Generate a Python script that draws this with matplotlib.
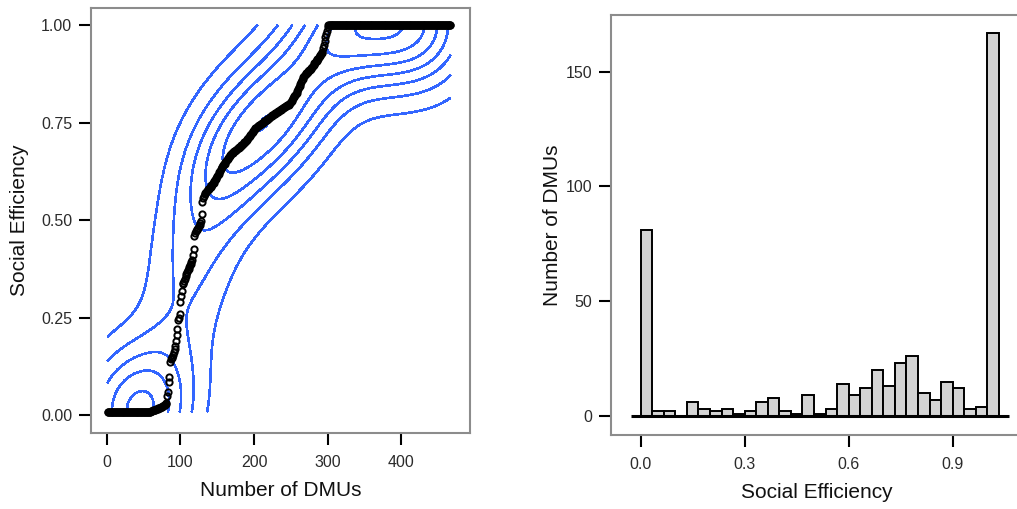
import numpy as np
import matplotlib
matplotlib.use("Agg")
import matplotlib.pyplot as plt
from matplotlib.ticker import FixedLocator, FormatStrFormatter

plt.rcParams['font.family'] = ['Liberation Sans', 'DejaVu Sans']

# ---------------- data: sorted social efficiency of each DMU ----------------
eff_bin00 = [0.008] * 58 + [0.009, 0.010, 0.010, 0.011, 0.012, 0.013, 0.013, 0.014,
                            0.015, 0.016, 0.017, 0.018, 0.018, 0.019, 0.020, 0.021,
                            0.022, 0.023, 0.024, 0.025, 0.027, 0.029, 0.031]
eff_bin01 = [0.048, 0.060]
eff_bin02 = [0.085, 0.098]
eff_bin04 = [0.137, 0.143, 0.146, 0.150, 0.155, 0.162]
eff_bin05 = [0.170, 0.178, 0.190]
eff_bin06 = [0.205, 0.222]
eff_bin07 = [0.244, 0.250, 0.259]
eff_bin08 = [0.290]
eff_bin09 = [0.306, 0.318]
eff_bin10 = [0.336, 0.339, 0.344, 0.350, 0.356, 0.363]
eff_bin11 = [0.368, 0.371, 0.375, 0.379, 0.384, 0.388, 0.392, 0.397]
eff_bin12 = [0.410, 0.427]
eff_bin13 = [0.458]
eff_bin14 = [0.468, 0.471, 0.474, 0.477, 0.480, 0.484, 0.488, 0.492, 0.497]
eff_bin15 = [0.515]
eff_bin16 = [0.546, 0.556, 0.563]
eff_bin17 = [0.568, 0.570, 0.572, 0.574, 0.577, 0.579, 0.581, 0.584, 0.586, 0.589,
             0.591, 0.594, 0.596, 0.599]
eff_bin18 = [0.602, 0.605, 0.609, 0.612, 0.616, 0.619, 0.623, 0.627, 0.631]
eff_bin19 = [0.635, 0.637, 0.640, 0.643, 0.645, 0.648, 0.651, 0.654, 0.656, 0.659,
             0.662, 0.665]
eff_bin20 = [0.668, 0.669, 0.671, 0.672, 0.674, 0.676, 0.677, 0.679, 0.680, 0.682,
             0.684, 0.685, 0.687, 0.688, 0.690, 0.692, 0.693, 0.695, 0.697, 0.699]
eff_bin21 = [0.701, 0.704, 0.706, 0.709, 0.711, 0.714, 0.716, 0.719, 0.721, 0.724,
             0.726, 0.729, 0.731]
eff_bin22 = [0.734, 0.736, 0.737, 0.738, 0.740, 0.741, 0.743, 0.744, 0.746, 0.747,
             0.748, 0.750, 0.751, 0.753, 0.754, 0.756, 0.757, 0.759, 0.760, 0.761,
             0.763, 0.764, 0.766]
eff_bin23 = [0.768, 0.769, 0.770, 0.772, 0.773, 0.774, 0.775, 0.777, 0.778, 0.779,
             0.780, 0.782, 0.783, 0.784, 0.785, 0.787, 0.788, 0.789, 0.790, 0.792,
             0.793, 0.794, 0.795, 0.796, 0.798, 0.799]
eff_bin24 = [0.803, 0.806, 0.809, 0.812, 0.815, 0.818, 0.821, 0.824, 0.827, 0.831]
eff_bin25 = [0.837, 0.841, 0.845, 0.850, 0.854, 0.858, 0.863]
eff_bin26 = [0.868, 0.870, 0.872, 0.874, 0.876, 0.878, 0.880, 0.882, 0.884, 0.886,
             0.888, 0.890, 0.892, 0.895, 0.898]
eff_bin27 = [0.902, 0.904, 0.907, 0.909, 0.912, 0.914, 0.917, 0.920, 0.922, 0.925,
             0.928, 0.931]
eff_bin28 = [0.940, 0.950, 0.960]
eff_bin29 = [0.970, 0.978, 0.986, 0.994]
eff_bin30 = [1.0] * 167

efficiency = np.array(
    eff_bin00 + eff_bin01 + eff_bin02 + eff_bin04 + eff_bin05 + eff_bin06 + eff_bin07
    + eff_bin08 + eff_bin09 + eff_bin10 + eff_bin11 + eff_bin12 + eff_bin13 + eff_bin14
    + eff_bin15 + eff_bin16 + eff_bin17 + eff_bin18 + eff_bin19 + eff_bin20 + eff_bin21
    + eff_bin22 + eff_bin23 + eff_bin24 + eff_bin25 + eff_bin26 + eff_bin27 + eff_bin28
    + eff_bin29 + eff_bin30)
dmu_rank = np.arange(1, len(efficiency) + 1)

hist_bins = 31
hist_binwidth = 1 / 30

left_xticks = [0, 100, 200, 300, 400]
left_yticks = [0.0, 0.25, 0.5, 0.75, 1.0]
right_xticks = [0.0, 0.3, 0.6, 0.9]
right_yticks = [0, 50, 100, 150]


# ---------------- 2-D kernel density (as MASS::kde2d) ----------------
def bandwidth_nrd(v):
    q1, q3 = np.percentile(v, [25, 75])
    h = (q3 - q1) / 1.34
    return 4 * 1.06 * min(np.std(v, ddof=1), h) * len(v) ** (-0.2)


def kde2d(x, y, ngrid=100):
    hx = bandwidth_nrd(x) / 4
    hy = bandwidth_nrd(y) / 4
    gx = np.linspace(x.min(), x.max(), ngrid)
    gy = np.linspace(y.min(), y.max(), ngrid)
    ax_ = (gx[:, None] - x[None, :]) / hx
    ay_ = (gy[:, None] - y[None, :]) / hy
    nx = np.exp(-0.5 * ax_ ** 2) / np.sqrt(2 * np.pi)
    ny = np.exp(-0.5 * ay_ ** 2) / np.sqrt(2 * np.pi)
    z = nx @ ny.T / (len(x) * hx * hy)
    return gx, gy, z


def r_pretty(lo, hi, n=10):
    h, h5 = 1.5, 2.75
    cell = (hi - lo) / n
    base = 10 ** np.floor(np.log10(cell))
    unit = base
    if 2 * base - cell < h * (cell - unit):
        unit = 2 * base
        if 5 * base - cell < h5 * (cell - unit):
            unit = 5 * base
            if 10 * base - cell < h * (cell - unit):
                unit = 10 * base
    ns = np.floor(lo / unit + 1e-7)
    nu = np.ceil(hi / unit - 1e-7)
    return np.arange(ns, nu + 1) * unit


gx, gy, dens = kde2d(dmu_rank.astype(float), efficiency)
levels = r_pretty(dens.min(), dens.max(), 10)

# ---------------- figure ----------------
W, H = 1017, 509
fig = plt.figure(figsize=(W / 100, H / 100), dpi=100)

frame_col = '#8c8c8c'
tick_col = '#2b2b2b'


def style_axes(ax):
    for s in ax.spines.values():
        s.set_color(frame_col)
        s.set_linewidth(1.5)
    ax.tick_params(axis='both', which='major', length=8.5, width=1.5, color='black',
                   labelsize=11.5, labelcolor=tick_col)
    ax.tick_params(axis='x', pad=7.3)
    ax.tick_params(axis='y', pad=5)


def place_labels(ax, xlab, ylab, xlab_y, ylab_x):
    ax.set_xlabel(xlab, fontsize=15, color='#111111')
    ax.set_ylabel(ylab, fontsize=15, color='#111111')
    ax.xaxis.label.set_verticalalignment('center')
    ax.yaxis.label.set_verticalalignment('center')
    ax.yaxis.label.set_horizontalalignment('center')
    ax.xaxis.set_label_coords(0.5, xlab_y)
    ax.yaxis.set_label_coords(ylab_x, 0.5)


# Left panel: scatter + density contours
ax1 = fig.add_axes([91 / W, 1 - 432.7 / H, (470 - 91) / W, (432.7 - 8.3) / H])
ax1.contour(gx, gy, dens.T, levels=levels, colors='#3366FF', linewidths=1.15,
            antialiased=False)
ax1.plot(dmu_rank, efficiency, linestyle='none', marker='o', markersize=4.5,
         markerfacecolor='none', markeredgecolor='black', markeredgewidth=1.4)
ax1.set_xlim(-21.5, 493.5)
ax1.set_ylim(-0.045, 1.043)
ax1.xaxis.set_major_locator(FixedLocator(left_xticks))
ax1.yaxis.set_major_locator(FixedLocator(left_yticks))
ax1.yaxis.set_major_formatter(FormatStrFormatter('%.2f'))
style_axes(ax1)
place_labels(ax1, 'Number of DMUs', 'Social Efficiency', (432.7 - 490) / 424.4, (20 - 91) / 379)

# Right panel: histogram
ax2 = fig.add_axes([610.7 / W, 1 - 435 / H, (1022 - 610.7) / W, (435 - 15) / H])
edges = np.arange(hist_bins + 1) * hist_binwidth
ax2.hist(efficiency, bins=edges, facecolor='#d3d3d3', edgecolor='black', linewidth=1.4)
pad = 0.028
ax2.hlines(0, edges[0] - pad, edges[-1] + pad, color='black', linewidth=2.2)
ax2.set_xlim(-0.0865, 1.100)
ax2.set_ylim(-8.3, 174.7)
ax2.xaxis.set_major_locator(FixedLocator(right_xticks))
ax2.yaxis.set_major_locator(FixedLocator(right_yticks))
ax2.xaxis.set_major_formatter(FormatStrFormatter('%.1f'))
style_axes(ax2)
place_labels(ax2, 'Social Efficiency', 'Number of DMUs', (435 - 492) / 420, (553 - 610.7) / 411.3)

fig.savefig('out.png', dpi=100)
